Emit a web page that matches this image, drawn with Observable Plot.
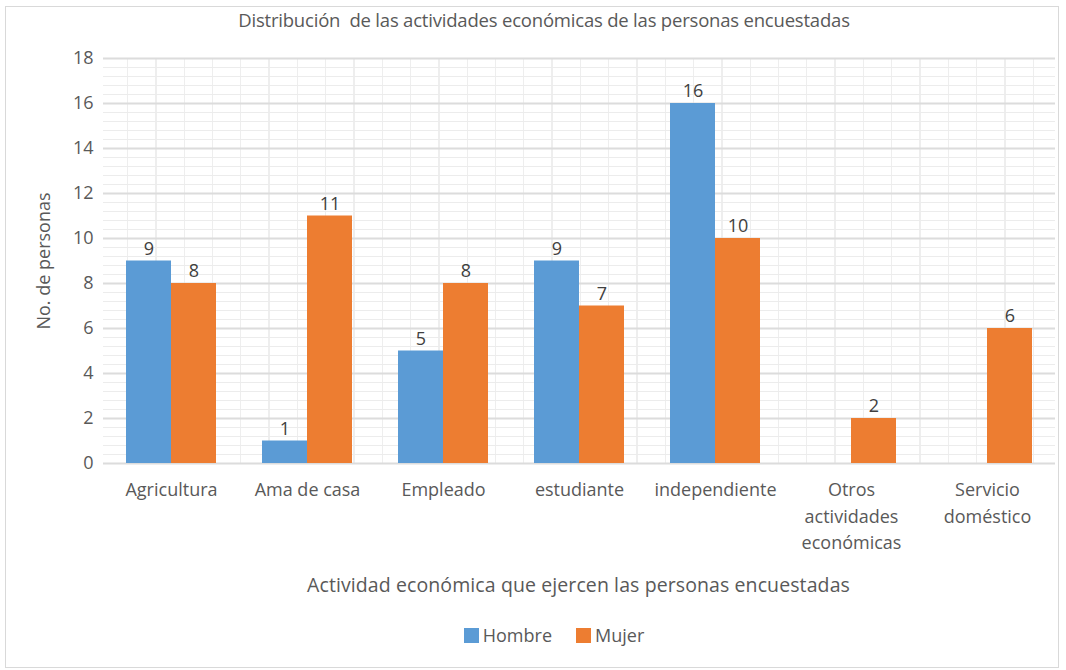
<!DOCTYPE html>
<html><head><meta charset="utf-8">
<script src="https://cdn.jsdelivr.net/npm/d3@7"></script>
<script src="https://cdn.jsdelivr.net/npm/@observablehq/plot@0.6"></script>
<style>
body{margin:0;background:#fff;font-family:"Open Sans",sans-serif;}
#wrap{position:relative;width:1066px;height:670px;overflow:hidden;background:#fff;}
#frame{position:absolute;left:5px;top:6px;width:1054px;height:662px;border:1px solid #d9d9d9;box-sizing:border-box;}
#title{position:absolute;top:7px;left:0;width:1088px;text-align:center;font-size:18.5px;color:#595959;letter-spacing:-0.2px;}
#xlabel{position:absolute;top:571px;left:100px;width:957px;text-align:center;font-size:19.5px;color:#595959;letter-spacing:0.1px;}
#vgrid{position:absolute;left:100px;top:58px;width:957px;height:405px;background:repeating-linear-gradient(to right, transparent 0 27px, #eeeeee 27px 28.3px);}
#chart{position:absolute;left:0;top:0;}
#legend{position:absolute;top:623px;left:0;width:1108px;display:flex;justify-content:center;gap:24px;font-size:18px;color:#595959;}
#legend span.item{display:flex;align-items:center;gap:4px;}
#legend i{display:inline-block;width:15px;height:15px;}
</style>
</head><body>
<div id="wrap">
  <div id="frame"></div>
  <div id="vgrid"></div>
  <div id="chart"></div>
  <div id="title">Distribución&nbsp; de las actividades económicas de las personas encuestadas</div>
  <div id="xlabel">Actividad económica que ejercen las personas encuestadas</div>
  <div id="legend"></div>
</div>
<script>
const categories = ["Agricultura","Ama de casa","Empleado","estudiante","independiente","Otros\nactividades\neconómicas","Servicio\ndoméstico"];
const series = ["Hombre","Mujer"];
const hombre = [9,1,5,9,16,0,0];
const mujer = [8,11,8,7,10,2,6];
const yTicks = [0,2,4,6,8,10,12,14,16,18];
const colors = ["#5B9BD5","#ED7D31"];

const data = categories.flatMap((c,i)=>[
  {cat:c, serie:"Hombre", value:hombre[i]},
  {cat:c, serie:"Mujer", value:mujer[i]}
]).filter(d => d.value > 0);

const minorTicks = d3.range(0, 18.001, 0.4).map(v => +v.toFixed(1));

const chart = Plot.plot({
  width:1066, height:600,
  marginTop:58, marginBottom:137, marginLeft:100, marginRight:9,
  style:{background:"transparent", fontFamily:"'Open Sans', sans-serif", color:"#595959"},
  fx:{domain:categories, padding:0, axis:null},
  x:{domain:series, paddingInner:0, paddingOuter:0.49, axis:null},
  y:{domain:[0,18]},
  color:{domain:series, range:colors},
  marks:[
    Plot.gridY(minorTicks, {stroke:"#ececec", strokeOpacity:1, strokeWidth:1}),
    Plot.gridY(yTicks, {stroke:"#dcdcdc", strokeOpacity:1, strokeWidth:2}),
    Plot.barY(data, {fx:"cat", x:"serie", y:"value", fill:"serie"}),
    Plot.text(data, {fx:"cat", x:"serie", y:"value", text:"value", dy:-12, fontSize:18, fill:"#404040"}),
    Plot.axisY(yTicks, {tickSize:0, tickPadding:10, fontSize:18, fill:"#595959",
      label:"No. de personas", labelAnchor:"center", labelOffset:66, labelArrow:"none"}),
    Plot.axisFx({anchor:"bottom", tickSize:0, tickPadding:14, fontSize:18, lineHeight:1.47, fill:"#595959", label:null})
  ]
});
document.getElementById("chart").appendChild(chart);

const legend = document.getElementById("legend");
series.forEach((s,i)=>{
  const it = document.createElement("span");
  it.className = "item";
  it.innerHTML = `<i style="background:${colors[i]}"></i>${s}`;
  legend.appendChild(it);
});
</script>
</body></html>
